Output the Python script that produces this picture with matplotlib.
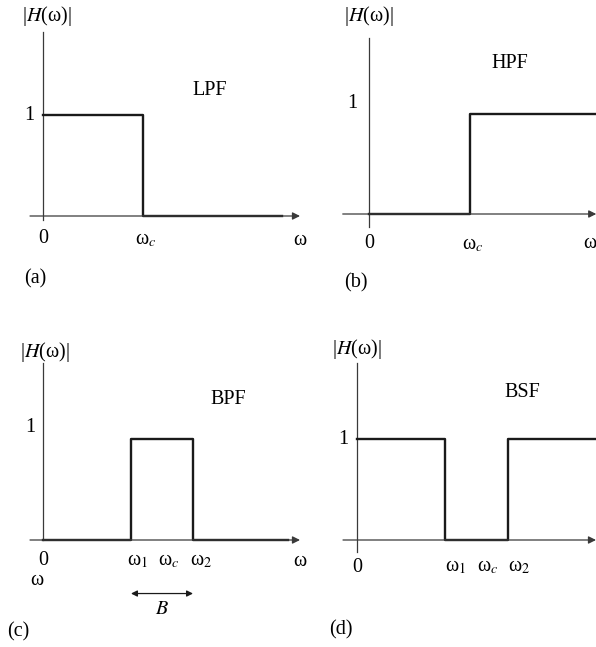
import matplotlib.pyplot as plt

plt.rcParams['font.family'] = ['Liberation Serif', 'DejaVu Serif']
plt.rcParams['mathtext.fontset'] = 'stix'

W, H = 596, 647

# step responses, frequency in units of the cutoff spacing
lpf_w = [0, 1.0, 1.0, 2.39]
lpf_h = [1, 1, 0, 0]
hpf_w = [0, 1.0, 1.0, 2.25]
hpf_h = [0, 0, 1, 1]
bpf_w = [0, 0.88, 0.88, 1.50, 1.50, 2.45]
bpf_h = [0, 0, 1, 1, 0, 0]
bsf_w = [0, 0.88, 0.88, 1.51, 1.51, 2.39]
bsf_h = [1, 1, 0, 0, 1, 1]

FS = 14.5
AXIS_COLOR = '#3a3a3a'
LINE_COLOR = '#1a1a1a'


def panel(fig, ox, oy, ux, uy):
    # axes covering the whole figure, origin placed at pixel (ox, oy)
    ax = fig.add_axes([0, 0, 1, 1])
    ax.set_xlim(-ox / ux, (W - ox) / ux)
    ax.set_ylim((oy - H) / uy, oy / uy)
    ax.axis('off')
    ax.patch.set_alpha(0)
    return ax


def draw_axes(ax, x0, x1, y0, y1):
    ax.annotate('', xy=(x1, 0), xytext=(x0, 0),
                arrowprops=dict(arrowstyle='-|>', lw=0.9, color=AXIS_COLOR,
                                mutation_scale=11, shrinkA=0, shrinkB=0))
    ax.plot([0, 0], [y0, y1], color=AXIS_COLOR, lw=0.9)


def txt(ax, x, y, s, **kw):
    ax.text(x, y, s, fontsize=FS, ha='center', va='center', **kw)


fig = plt.figure(figsize=(W / 100, H / 100), dpi=100)

# (a) low pass
ax = panel(fig, 43, 216, 100, 101)
draw_axes(ax, -0.13, 2.57, -0.04, 1.82)
ax.plot(lpf_w, lpf_h, color=LINE_COLOR, lw=1.7)
txt(ax, -0.14, 1.0, '1')
txt(ax, 0, -0.22, '0')
txt(ax, 1.03, -0.24, r'ω$_c$')
txt(ax, 2.57, -0.24, 'ω')
txt(ax, 1.67, 1.24, 'LPF')
txt(ax, -0.08, -0.62, '(a)')
txt(ax, 0.04, 1.98, r'|$H$(ω)|')

# (b) high pass
ax = panel(fig, 369, 214, 101, 100)
draw_axes(ax, -0.26, 2.25, -0.13, 1.76)
ax.plot(hpf_w, hpf_h, color=LINE_COLOR, lw=1.7)
txt(ax, -0.17, 1.11, '1')
txt(ax, 0, -0.29, '0')
txt(ax, 1.03, -0.31, r'ω$_c$')
txt(ax, 2.19, -0.29, 'ω')
txt(ax, 1.39, 1.51, 'HPF')
txt(ax, -0.13, -0.69, '(b)')
txt(ax, 0, 1.98, r'|$H$(ω)|')

# (c) band pass
ax = panel(fig, 43, 540, 100, 101)
draw_axes(ax, -0.13, 2.57, 0, 1.75)
ax.plot(bpf_w, bpf_h, color=LINE_COLOR, lw=1.7)
txt(ax, -0.13, 1.11, '1')
txt(ax, 0, -0.2, '0')
txt(ax, 0.95, -0.21, r'ω$_1$')
txt(ax, 1.26, -0.21, r'ω$_c$')
txt(ax, 1.58, -0.21, r'ω$_2$')
txt(ax, 2.57, -0.21, 'ω')
txt(ax, -0.06, -0.40, 'ω')
ax.annotate('', xy=(bpf_w[3], -0.53), xytext=(bpf_w[1], -0.53),
            arrowprops=dict(arrowstyle='<|-|>', lw=0.9, color=LINE_COLOR,
                            mutation_scale=9, shrinkA=0, shrinkB=0))
txt(ax, 1.19, -0.69, r'$B$')
txt(ax, -0.25, -0.91, '(c)')
txt(ax, 1.85, 1.39, 'BPF')
txt(ax, 0.02, 1.86, r'|$H$(ω)|')

# (d) band stop
ax = panel(fig, 357, 540, 100, 101)
draw_axes(ax, -0.14, 2.39, -0.12, 1.75)
ax.plot(bsf_w, bsf_h, color=LINE_COLOR, lw=1.7)
txt(ax, -0.14, 1.0, '1')
txt(ax, 0, -0.27, '0')
txt(ax, 0.99, -0.27, r'ω$_1$')
txt(ax, 1.31, -0.27, r'ω$_c$')
txt(ax, 1.62, -0.27, r'ω$_2$')
txt(ax, 1.65, 1.46, 'BSF')
txt(ax, -0.16, -0.89, '(d)')
txt(ax, 0, 1.89, r'|$H$(ω)|')

fig.savefig('out.png', dpi=100)
